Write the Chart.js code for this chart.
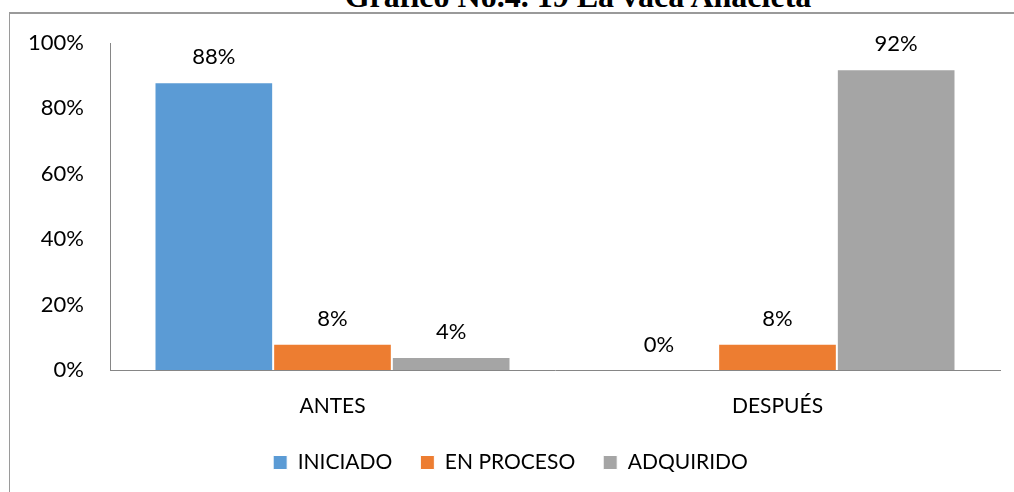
<!DOCTYPE html>
<html>
<head>
<meta charset="utf-8">
<script src="https://cdn.jsdelivr.net/npm/chart.js@4"></script>
<style>
  html, body { margin: 0; padding: 0; background: #fff; overflow: hidden; }
  #wrap { position: relative; width: 1014px; height: 492px; overflow: hidden; }
  #frame { position: absolute; left: 9px; top: 12px; width: 1100px; height: 600px;
           border-left: 1px solid #9a9a9a; border-top: 2px solid #9a9a9a; box-sizing: border-box; }
  #title { position: absolute; left: 0; width: 1156px; top: -20px; text-align: center;
           font-family: "Liberation Serif", "Times New Roman", serif; font-weight: bold;
           font-size: 32px; line-height: 32px; color: #000; white-space: nowrap; }
  canvas { position: absolute; left: 0; top: 0; }
</style>
</head>
<body>
<div id="wrap">
  <div id="frame"></div>
  <div id="title">Gráfico No.4. 19 La vaca Ahacleta</div>
  <canvas id="c" width="1014" height="492"></canvas>
</div>
<script>
const categories = ["ANTES", "DESPUÉS"];
const seriesNames = ["INICIADO", "EN PROCESO", "ADQUIRIDO"];
const iniciado = [88, 0];
const enProceso = [8, 8];
const adquirido = [4, 92];
const yTicks = [0, 20, 40, 60, 80, 100];
const colors = ["#5B9BD5", "#ED7D31", "#A5A5A5"];

const FONT = "Lato, 'Open Sans', sans-serif";

const valueLabels = {
  id: "valueLabels",
  afterDatasetsDraw(chart) {
    const ctx = chart.ctx;
    ctx.save();
    ctx.font = "22px " + FONT;
    ctx.fillStyle = "#000";
    ctx.textAlign = "center";
    ctx.textBaseline = "middle";
    chart.data.datasets.forEach((ds, i) => {
      const meta = chart.getDatasetMeta(i);
      meta.data.forEach((bar, j) => {
        ctx.fillText(ds.data[j] + "%", bar.x, bar.y - 25);
      });
    });
    ctx.restore();
  }
};

new Chart(document.getElementById("c"), {
  type: "bar",
  data: {
    labels: categories,
    datasets: [
      { label: seriesNames[0], data: iniciado, backgroundColor: colors[0] },
      { label: seriesNames[1], data: enProceso, backgroundColor: colors[1] },
      { label: seriesNames[2], data: adquirido, backgroundColor: colors[2] }
    ].map(d => Object.assign(d, { borderColor: "#ffffff", borderWidth: 1,
         categoryPercentage: 0.8, barPercentage: 1.0 }))
  },
  options: {
    responsive: false,
    animation: false,
    devicePixelRatio: 1,
    layout: { padding: { top: 43, left: 21, right: 14, bottom: 9 } },
    scales: {
      x: {
        grid: { display: false, drawTicks: false },
        border: { display: true, color: "#868686", width: 1 },
        ticks: { color: "#000", font: { family: FONT, size: 21 }, padding: 24 },
        afterFit(s) { s.height = 54; }
      },
      y: {
        min: 0, max: 100,
        grid: { display: false, drawTicks: false },
        border: { display: true, color: "#868686", width: 1 },
        afterBuildTicks(s) { s.ticks = yTicks.map(v => ({ value: v })); },
        ticks: { color: "#000", font: { family: FONT, size: 22 }, padding: 26,
                 callback: v => v + "%" },
        afterFit(s) { s.width = 89; }
      }
    },
    plugins: {
      legend: {
        position: "bottom",
        labels: { color: "#000", font: { family: FONT, size: 21 },
                  boxWidth: 14, boxHeight: 14, padding: 28 }
      },
      tooltip: { enabled: false },
      title: { display: false }
    }
  },
  plugins: [valueLabels]
});
</script>
</body>
</html>
